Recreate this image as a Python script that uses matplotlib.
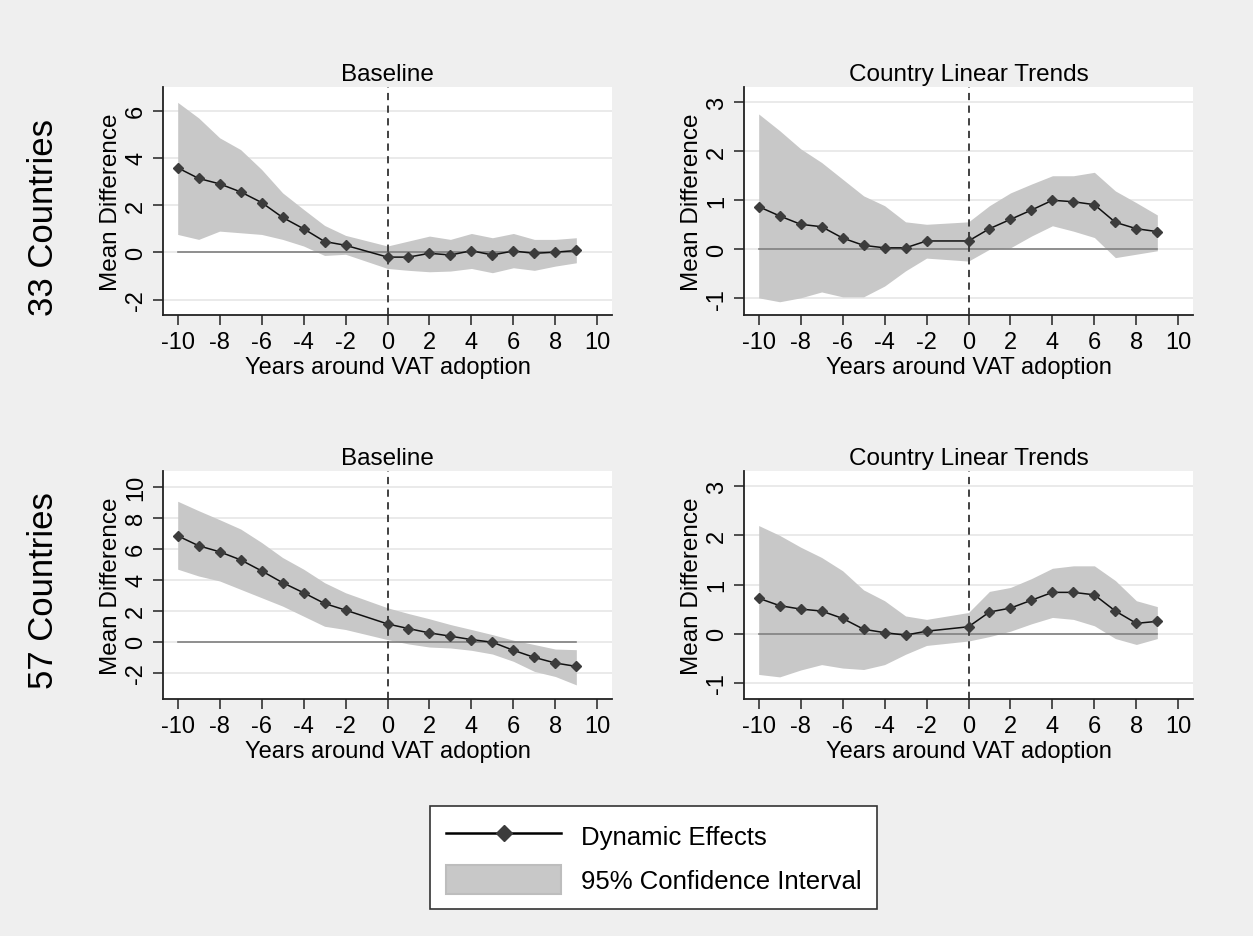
import numpy as np
import matplotlib
matplotlib.use("Agg")
import matplotlib.pyplot as plt
from matplotlib.lines import Line2D
from matplotlib.patches import Patch

plt.rcParams['font.family'] = ['Liberation Sans', 'DejaVu Sans']
plt.rcParams['axes.unicode_minus'] = False

# event time (year -1 is the omitted reference year)
years = [-10, -9, -8, -7, -6, -5, -4, -3, -2, 0, 1, 2, 3, 4, 5, 6, 7, 8, 9]

# 33 countries, baseline
b33_est = [3.58, 3.13, 2.90, 2.56, 2.11, 1.48, 1.00, 0.46, 0.30, -0.20, -0.20, -0.04, -0.11, 0.07, -0.11, 0.06, -0.04, 0.01, 0.08]
b33_hi = [6.35, 5.69, 4.85, 4.35, 3.51, 2.52, 1.82, 1.14, 0.72, 0.27, 0.48, 0.69, 0.55, 0.80, 0.62, 0.80, 0.55, 0.55, 0.62]
b33_lo = [0.76, 0.55, 0.90, 0.83, 0.76, 0.55, 0.27, -0.13, -0.08, -0.68, -0.76, -0.82, -0.79, -0.68, -0.86, -0.65, -0.76, -0.58, -0.44]

# 33 countries, country linear trends
t33_est = [0.87, 0.68, 0.51, 0.46, 0.23, 0.08, 0.03, 0.03, 0.17, 0.17, 0.42, 0.61, 0.80, 1.00, 0.97, 0.91, 0.55, 0.42, 0.36]
t33_hi = [2.76, 2.42, 2.05, 1.77, 1.43, 1.09, 0.89, 0.56, 0.51, 0.56, 0.89, 1.15, 1.33, 1.50, 1.50, 1.57, 1.19, 0.95, 0.70]
t33_lo = [-0.99, -1.07, -0.99, -0.87, -0.97, -0.97, -0.75, -0.44, -0.18, -0.24, 0.00, 0.03, 0.27, 0.48, 0.37, 0.24, -0.17, -0.10, -0.03]

# 57 countries, baseline
b57_est = [6.82, 6.18, 5.79, 5.27, 4.56, 3.80, 3.15, 2.46, 2.03, 1.14, 0.84, 0.56, 0.35, 0.13, -0.04, -0.56, -1.02, -1.38, -1.60]
b57_hi = [9.05, 8.44, 7.86, 7.26, 6.39, 5.42, 4.67, 3.80, 3.15, 2.18, 1.81, 1.47, 1.10, 0.78, 0.45, 0.09, -0.19, -0.48, -0.52]
b57_lo = [4.67, 4.23, 3.91, 3.37, 2.83, 2.29, 1.64, 0.99, 0.78, 0.13, -0.15, -0.35, -0.41, -0.56, -0.80, -1.27, -1.92, -2.25, -2.79]

# 57 countries, country linear trends
t57_est = [0.72, 0.57, 0.50, 0.46, 0.31, 0.09, 0.02, -0.03, 0.05, 0.14, 0.44, 0.52, 0.68, 0.84, 0.84, 0.79, 0.46, 0.21, 0.25]
t57_hi = [2.20, 2.00, 1.76, 1.55, 1.28, 0.89, 0.67, 0.36, 0.29, 0.43, 0.86, 0.94, 1.12, 1.33, 1.38, 1.38, 1.08, 0.67, 0.55]
t57_lo = [-0.83, -0.88, -0.74, -0.63, -0.70, -0.73, -0.63, -0.42, -0.24, -0.15, -0.06, 0.05, 0.20, 0.33, 0.29, 0.16, -0.10, -0.22, -0.10]

panels = [
    ("Baseline", b33_est, b33_lo, b33_hi, [-2, 0, 2, 4, 6], (-2.65, 7.0)),
    ("Country Linear Trends", t33_est, t33_lo, t33_hi, [-1, 0, 1, 2, 3], (-1.34, 3.31)),
    ("Baseline", b57_est, b57_lo, b57_hi, [-2, 0, 2, 4, 6, 8, 10], (-3.7, 11.0)),
    ("Country Linear Trends", t57_est, t57_lo, t57_hi, [-1, 0, 1, 2, 3], (-1.33, 3.31)),
]

W, H = 1253, 937
fig = plt.figure(figsize=(W / 100, H / 100), dpi=100, facecolor='#efefef')

boxes = [(163, 88), (744, 88), (163, 472), (744, 472)]
pw, ph = 449, 228

fill_col = '#c8c8c8'
for (title, est, lo, hi, yt, ylim), (px, py) in zip(panels, boxes):
    ax = fig.add_axes([px / W, 1 - (py + ph) / H, pw / W, ph / H])
    ax.set_facecolor('white')
    for s in ['top', 'right']:
        ax.spines[s].set_visible(False)
    for s in ['left', 'bottom']:
        ax.spines[s].set_color('#222222')
        ax.spines[s].set_linewidth(1.3)
    ax.fill_between(years, lo, hi, color=fill_col, linewidth=0, zorder=1)
    ax.plot([years[0], years[-1]], [0, 0], color='#808080', lw=1.2, zorder=2)
    ax.axvline(0, color='#333333', lw=1.3, ls=(0, (4, 3)), zorder=3)
    ax.plot(years, est, color='#111111', lw=1.1, marker='D', ms=5,
            mfc='#3c3c3c', mec='#3c3c3c', zorder=4)
    ax.set_xlim(-10.7, 10.7)
    ax.set_ylim(*ylim)
    ax.set_xticks(range(-10, 11, 2))
    ax.set_yticks(yt)
    ax.grid(axis='y', color='#e8e8e8', lw=1.3, zorder=0)
    ax.set_axisbelow(True)
    ax.tick_params(axis='both', labelsize=17, length=7, width=1.1, color='#222222', pad=4.5)
    for lab in ax.get_yticklabels():
        lab.set_rotation(90)
        lab.set_va('center')
    ax.set_xlabel("Years around VAT adoption", fontsize=17, labelpad=2)
    ax.set_ylabel("Mean Difference", fontsize=17.5, labelpad=2.5)
    ax.set_title(title, fontsize=17.5, pad=5)

fig.text(44 / W, 1 - 218 / H, "33 Countries", rotation=90, fontsize=25, ha='center', va='center')
fig.text(44 / W, 1 - 591 / H, "57 Countries", rotation=90, fontsize=25, ha='center', va='center')

handles = [
    Line2D([0], [0], color='black', lw=1.8, marker='D', ms=8, mfc='#3c3c3c', mec='#3c3c3c'),
    Patch(facecolor=fill_col, edgecolor='#bdbdbd', linewidth=1.5),
]
leg = fig.legend(handles, ["Dynamic Effects", "95% Confidence Interval"],
                 loc='center', bbox_to_anchor=(653.5 / W, 1 - 858.5 / H),
                 fontsize=18.5, frameon=True, fancybox=False, handlelength=4.5,
                 handleheight=1.32, handletextpad=0.75, borderpad=0.62, labelspacing=0.6,
                 borderaxespad=0, framealpha=1, facecolor='white')
leg.get_frame().set_edgecolor('#333333')
leg.get_frame().set_linewidth(1.2)

fig.savefig("out.png", dpi=100, facecolor=fig.get_facecolor())
